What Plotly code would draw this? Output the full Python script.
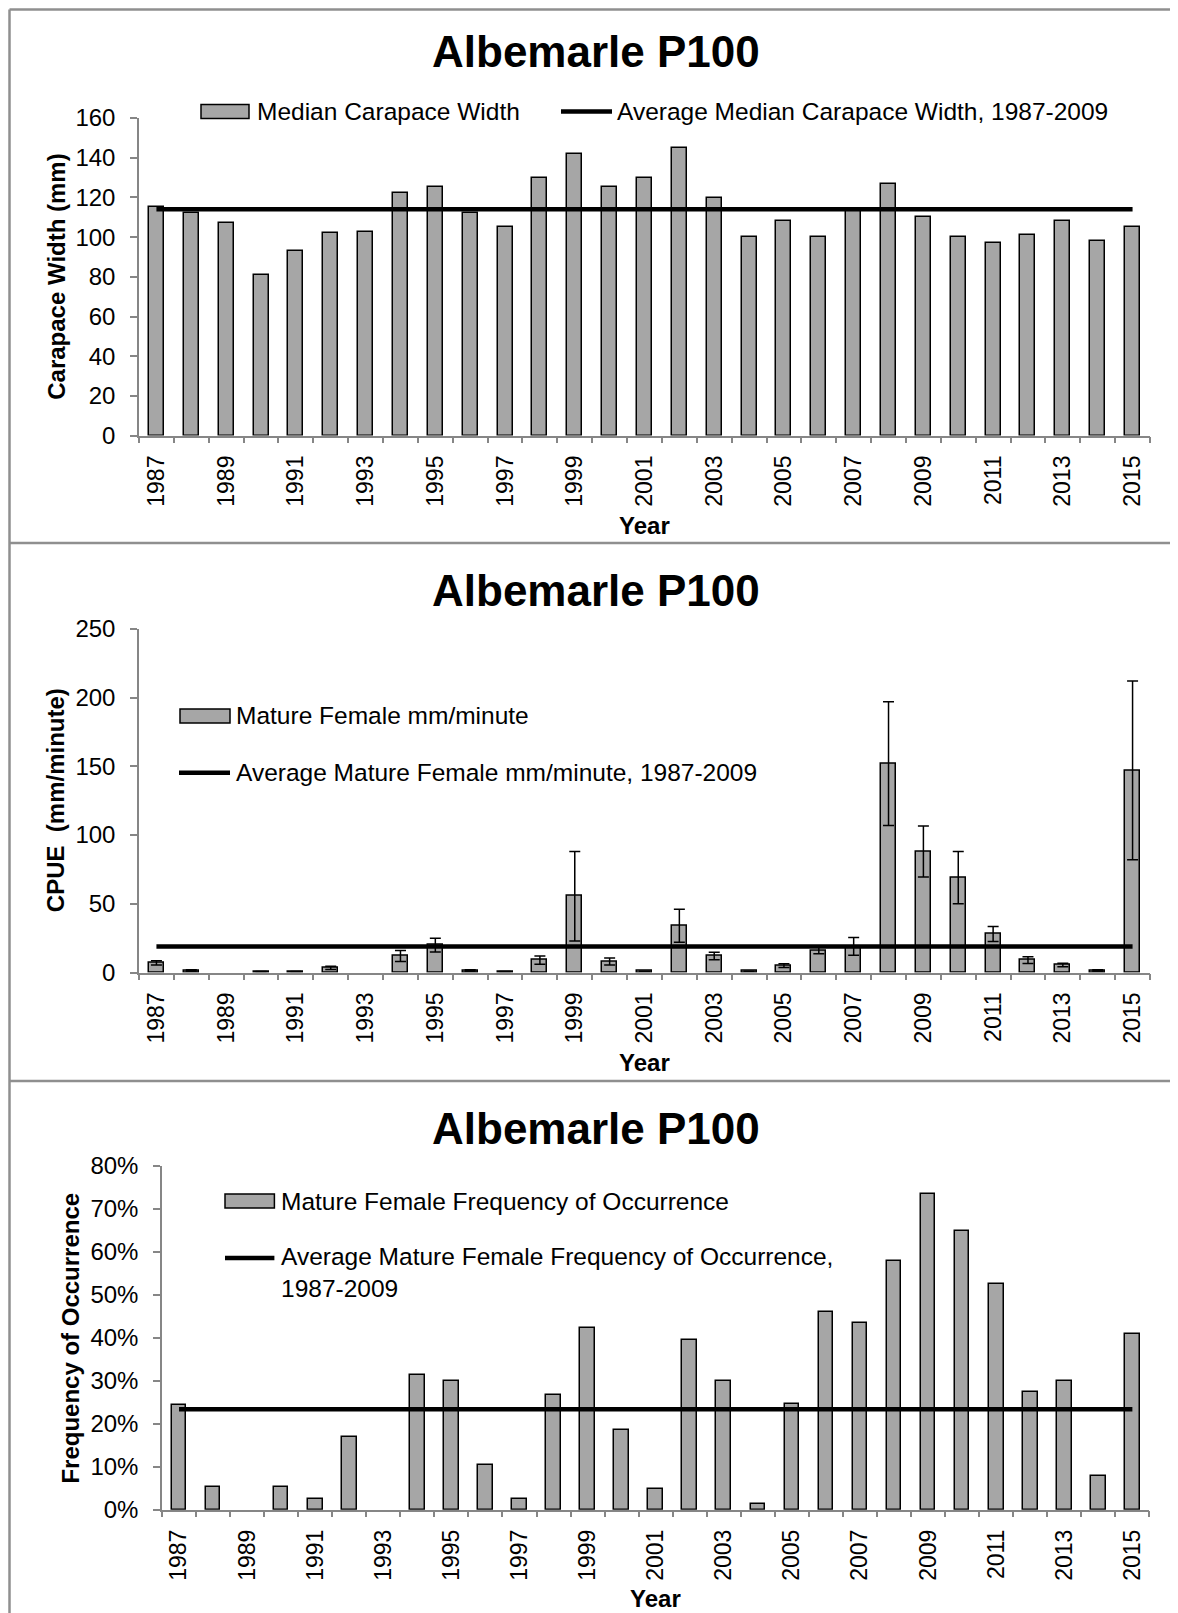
#!/usr/bin/env python3
"""
plot.py — Albemarle P100 survey summary, three stacked Excel-style panels:

  1  median carapace width (mm) per year vs the 1987-2009 average
  2  mature female CPUE (mm/minute, with error bars) vs the 1987-2009 average
  3  mature female frequency of occurrence (%) vs the 1987-2009 average

    python plot.py          # writes out.html
"""
import plotly.graph_objects as go

W, H = 1178, 1613          # browser window
PAGE_MARGIN = 8            # default <body> margin around the plotly div
FIG_W, FIG_H = W - PAGE_MARGIN, H - PAGE_MARGIN   # run to the window's right/bottom edge

YEARS = list(range(1987, 2016))
YEAR_TICKS = YEARS[::2]

# panel 1: median carapace width, mm
CW_MEDIAN = [115, 112, 107, 81, 93, 102, 102.5, 122, 125, 112, 105, 130, 142, 125, 130,
             145, 119.5, 100, 108, 100, 114, 127, 110, 100, 97, 101, 108, 98, 105]
CW_AVG = 114

# panel 2: mature female CPUE, mm/minute, with +/- error (None = no catch, no bar)
CPUE = [7, 1.5, None, 0.8, 0.8, 3.3, None, 12, 20, 1.5, 0.7, 9, 55.5, 8, 1,
        34, 12, 1, 5, 16, 19, 152, 88, 69, 28, 9, 5.5, 1.5, 147]
CPUE_ERR = [1.5, 0.5, 0, 0, 0, 1.2, 0, 4, 5, 0.5, 0, 3, 32.5, 2.5, 0,
            12, 2.7, 0, 1.3, 2.3, 6.5, 45, 18.5, 19, 5.4, 2.5, 1.3, 0.5, 65]
CPUE_AVG = 19

# panel 3: mature female frequency of occurrence, %
FREQ = [24.3, 5.2, None, 5.2, 2.6, 16.9, None, 31.3, 30.0, 10.4, 2.6, 26.6, 42.2, 18.6, 4.75,
        39.6, 30.0, 1.4, 24.7, 46.1, 43.4, 57.9, 73.6, 64.8, 52.5, 27.3, 30.0, 7.8, 40.9]
FREQ_AVG = 23.4

TITLE = "Albemarle P100"
FONT = "Arial, Liberation Sans, sans-serif"
BAR_FILL = "#a6a6a6"
AXIS = "#868686"
FRAME = "#8f8f8f"
TITLE_X = 596

# page geometry in window pixels (plot box, title / axis-title anchors, legend swatches)
PANELS = [
    dict(box=(139, 118, 1150, 435.6), yrange=(0, 160), dtick=20, suffix="",
         title_y=52, ytitle="Carapace Width (mm)", ytitle_x=57, xtitle_y=526,
         legend=[("bar", 201, 249, 111.5, 255, "Median Carapace Width"),
                 ("line", 561, 612, 111.5, 615, "Average Median Carapace Width, 1987-2009")]),
    dict(box=(139, 628.8, 1150, 972.5), yrange=(0, 250), dtick=50, suffix="",
         title_y=590, ytitle="CPUE\u00a0 (mm/minute)", ytitle_x=55.5, xtitle_y=1062,
         legend=[("bar", 180, 230, 716, 234, "Mature Female mm/minute"),
                 ("line", 179, 230, 772.8, 234, "Average Mature Female mm/minute, 1987-2009")]),
    dict(box=(162, 1165.9, 1149.4, 1509.7), yrange=(0, 80), dtick=10, suffix="%",
         title_y=1128, ytitle="Frequency of Occurrence", ytitle_x=70.8, xtitle_y=1598,
         legend=[("bar", 225, 274.4, 1201, 279.4, "Mature Female Frequency of Occurrence"),
                 ("line", 225, 274.4, 1258, 279.4,
                  "Average Mature Female Frequency of Occurrence,<br>1987-2009")]),
]
SERIES = [(CW_MEDIAN, None, CW_AVG), (CPUE, CPUE_ERR, CPUE_AVG), (FREQ, None, FREQ_AVG)]


def px(x):
    return (x - PAGE_MARGIN) / FIG_W


def py(y):
    return 1 - (y - PAGE_MARGIN) / FIG_H


def _note(fig, text, x, y, **kw):
    kw.setdefault("xanchor", "center")
    fig.add_annotation(text=text, x=px(x), y=py(y), xref="paper", yref="paper",
                       yanchor="middle", showarrow=False, **kw)


def _panel(fig, i, spec, values, err, avg):
    xa, ya = ("x", "y") if i == 1 else (f"x{i}", f"y{i}")
    bar = dict(x=YEARS, y=values, width=0.43, xaxis=xa, yaxis=ya, showlegend=False,
               marker=dict(color=BAR_FILL, line=dict(color="black", width=1.5)))
    if err is not None:
        bar["error_y"] = dict(type="data", array=err, color="black", thickness=1.5, width=5.5)
    fig.add_trace(go.Bar(**bar))
    fig.add_trace(go.Scatter(x=YEARS, y=[avg] * len(YEARS), mode="lines", xaxis=xa, yaxis=ya,
                             line=dict(color="black", width=4.5), showlegend=False))

    x0, top, x1, bot = spec["box"]
    suffix = "" if i == 1 else str(i)
    fig.layout[f"xaxis{suffix}"] = dict(
        domain=[px(x0), px(x1)], anchor=ya, range=[YEARS[0] - 0.5, YEARS[-1] + 0.5],
        automargin=False,
        tickmode="array", tickvals=YEAR_TICKS, ticktext=[str(y) for y in YEAR_TICKS],
        tickangle=-90, ticks="", ticklabelstandoff=9, tickfont=dict(size=23),
        showline=True, linecolor=AXIS, linewidth=1.5, showgrid=False, zeroline=False,
        minor=dict(ticks="outside", tick0=YEARS[0] - 0.5, dtick=1, ticklen=6,
                   tickwidth=1.5, tickcolor=AXIS, showgrid=False))
    fig.layout[f"yaxis{suffix}"] = dict(
        domain=[py(bot), py(top)], anchor=xa, range=list(spec["yrange"]), dtick=spec["dtick"],
        automargin=False,
        ticksuffix=spec["suffix"], ticks="outside", ticklen=7, tickwidth=1.5, tickcolor=AXIS,
        ticklabelstandoff=10, tickfont=dict(size=24),
        showline=True, linecolor=AXIS, linewidth=1.5, showgrid=False, zeroline=False)

    _note(fig, f"<b>{TITLE}</b>", TITLE_X, spec["title_y"], font=dict(size=44))
    _note(fig, f"<b>{spec['ytitle']}</b>", spec["ytitle_x"], (top + bot) / 2,
          textangle=-90, font=dict(size=24))
    _note(fig, "<b>Year</b>", (x0 + x1) / 2, spec["xtitle_y"], font=dict(size=24))

    for kind, lx0, lx1, ly, tx, text in spec["legend"]:
        if kind == "bar":
            fig.add_shape(type="rect", xref="paper", yref="paper", x0=px(lx0), x1=px(lx1),
                          y0=py(ly + 7), y1=py(ly - 7), fillcolor=BAR_FILL,
                          line=dict(color="black", width=1.5))
        else:
            fig.add_shape(type="line", xref="paper", yref="paper", x0=px(lx0), x1=px(lx1),
                          y0=py(ly), y1=py(ly), line=dict(color="black", width=4.5))
        # two-line entries hang below the swatch, single lines centre on it
        _note(fig, text, tx, ly + 14 * text.count("<br>"), xanchor="left", align="left",
              font=dict(size=24.5))


def main():
    fig = go.Figure()
    for i, (spec, (values, err, avg)) in enumerate(zip(PANELS, SERIES), start=1):
        _panel(fig, i, spec, values, err, avg)

    # frame lines around / between the three panels (top/left sit at the div edge)
    edge = PAGE_MARGIN + 1.5
    for y in (edge, 543, 1081):
        fig.add_shape(type="line", xref="paper", yref="paper", x0=px(edge), x1=1,
                      y0=py(y), y1=py(y), line=dict(color=FRAME, width=2.5))
    fig.add_shape(type="line", xref="paper", yref="paper", x0=px(edge), x1=px(edge),
                  y0=py(edge), y1=0, line=dict(color=FRAME, width=2.5))

    fig.update_layout(width=FIG_W, height=FIG_H, margin=dict(l=0, r=0, t=0, b=0),
                      paper_bgcolor="white", plot_bgcolor="white", bargap=0,
                      font=dict(family=FONT, color="black", size=24))
    fig.write_html("out.html")


if __name__ == "__main__":
    main()
